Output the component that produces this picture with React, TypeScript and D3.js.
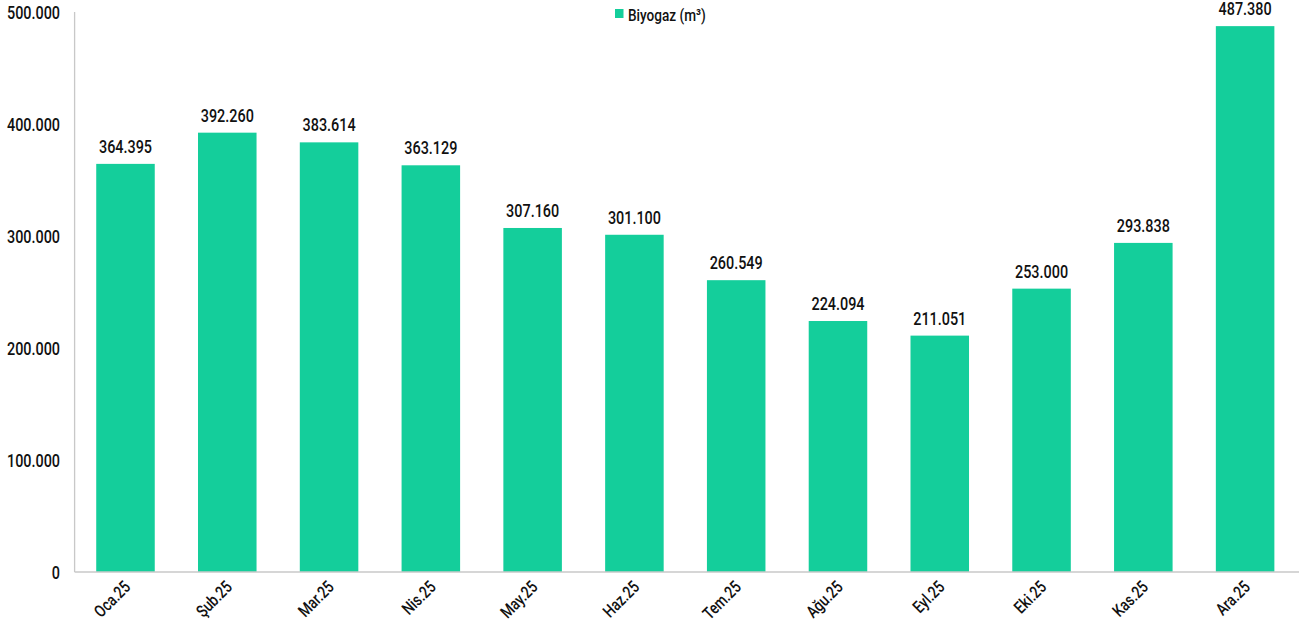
import React from "react";
import * as d3 from "d3";

const categories = ["Oca.25","Şub.25","Mar.25","Nis.25","May.25","Haz.25","Tem.25","Ağu.25","Eyl.25","Eki.25","Kas.25","Ara.25"];
const values = [364395, 392260, 383614, 363129, 307160, 301100, 260549, 224094, 211051, 253000, 293838, 487380];
const yTicks = [0, 100000, 200000, 300000, 400000, 500000];
const seriesName = "Biyogaz (m³)";

const W = 1299, H = 632;
const margin = { left: 74.6, right: 3, top: 12, bottom: 60 };
const FONT = "Roboto, 'Noto Sans', sans-serif";
const COLOR = "#14CE9B";
const SX = 0.8;

const fmt = (v: number) => {
  const s = Math.round(v).toString();
  return s.replace(/\B(?=(\d{3})+(?!\d))/g, ".");
};

function T({ x, y, rot = 0, anchor = "middle", size = 18, children }: any) {
  return (
    <g transform={`translate(${x},${y}) rotate(${rot}) scale(${SX},1)`}>
      <text textAnchor={anchor} fontSize={size} fontWeight={500} fill="#111">{children}</text>
    </g>
  );
}

export default function App() {
  const x = d3.scaleBand<string>().domain(categories).range([margin.left, W - margin.right]).paddingInner(0.425).paddingOuter(0.2125);
  const y = d3.scaleLinear().domain([0, 500000]).range([572, 12]);
  const x0 = margin.left;
  return (
    <svg width={W} height={H} style={{ position: "absolute", left: 0, top: 0, background: "#fff" }} fontFamily={FONT}>
      {values.map((v, i) => (
        <rect key={i} x={x(categories[i])} y={y(v)} width={x.bandwidth()} height={y(0) - y(v)} fill={COLOR} />
      ))}
      <line x1={x0} x2={x0} y1={y(500000)} y2={y(0)} stroke="#c8c8c8" strokeWidth={1.3} />
      <line x1={x0} x2={W - margin.right + 3} y1={y(0)} y2={y(0)} stroke="#c8c8c8" strokeWidth={1.3} />
      {yTicks.map((t) => (
        <T key={t} x={60} y={y(t) + 6.5} anchor="end" size={18}>{fmt(t)}</T>
      ))}
      {values.map((v, i) => (
        <T key={i} x={(x(categories[i]) as number) + x.bandwidth() / 2} y={y(v) - 11} size={18}>{fmt(v)}</T>
      ))}
      {categories.map((c, i) => (
        <T key={c} x={(x(c) as number) + x.bandwidth() / 2 + 6} y={588} rot={-45} anchor="end" size={17}>{c}</T>
      ))}
      <rect x={615} y={9} width={8.5} height={9} fill={COLOR} />
      <T x={628} y={20.5} anchor="start" size={17}>{seriesName}</T>
    </svg>
  );
}
